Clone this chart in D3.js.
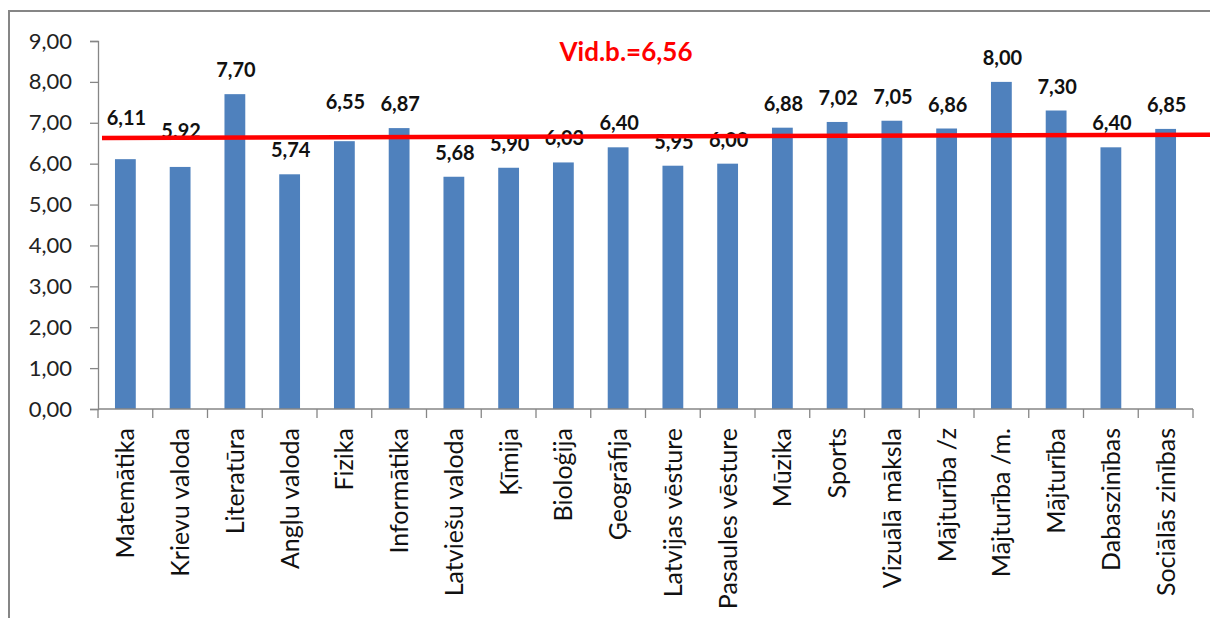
<!DOCTYPE html>
<html>
<head>
<meta charset="utf-8">
<script src="https://cdn.jsdelivr.net/npm/d3@7/dist/d3.min.js"></script>
<style>
  html, body { margin: 0; padding: 0; background: #fff; }
  svg { display: block; }
</style>
</head>
<body>
<svg id="chart" width="1210" height="618"></svg>
<script>
// ---- data ----
const categories = [
  "Matemātika", "Krievu valoda", "Literatūra", "Angļu valoda", "Fizika",
  "Informātika", "Latviešu valoda", "Ķīmija", "Bioloģija", "Ģeogrāfija",
  "Latvijas vēsture", "Pasaules vēsture", "Mūzika", "Sports", "Vizuālā māksla",
  "Mājturība /z", "Mājturība /m.", "Mājturība", "Dabaszinības", "Sociālās zinības"
];
const values = [6.11, 5.92, 7.70, 5.74, 6.55, 6.87, 5.68, 5.90, 6.03, 6.40,
                5.95, 6.00, 6.88, 7.02, 7.05, 6.86, 8.00, 7.30, 6.40, 6.85];
const valueLabels = ["6,11", "5.92", "7,70", "5,74", "6,55", "6,87", "5,68", "5,90", "6,03", "6,40",
                     "5,95", "6,00", "6,88", "7,02", "7,05", "6,86", "8,00", "7,30", "6,40", "6,85"];
const yTicks = [0, 1, 2, 3, 4, 5, 6, 7, 8, 9];
const yTickLabels = ["0,00", "1,00", "2,00", "3,00", "4,00", "5,00", "6,00", "7,00", "8,00", "9,00"];
const averageTitle = "Vid.b.=6,56";
// the hand-drawn average line, as read at its left and right ends
const averageLineEnds = [6.63, 6.71];

// ---- layout / style (not data) ----
const W = 1210, H = 618;
const plot = { left: 98, right: 1193, top: 41, bottom: 409 };
const barColor = "#4f81bd";
const axisColor = "#868686";
// manual label lifts (px) where the original labels were dragged upward
const labelLift = { 0: 17, 1: 12, 4: 15 };

const svg = d3.select("#chart");

// outer frame
svg.append("rect")
  .attr("x", 9).attr("y", 11)
  .attr("width", W + 20).attr("height", H + 20)
  .attr("fill", "#fff")
  .attr("stroke", axisColor).attr("stroke-width", 2);

const x = d3.scaleBand().domain(categories).range([plot.left, plot.right]).paddingInner(0.62).paddingOuter(0.31);
const xb = d3.scaleBand().domain(categories).range([plot.left, plot.right]);
const y = d3.scaleLinear().domain([0, 9]).range([plot.bottom, plot.top]);

// bars
svg.append("g").selectAll("rect")
  .data(values)
  .join("rect")
  .attr("x", (d, i) => x(categories[i]))
  .attr("width", x.bandwidth())
  .attr("y", d => y(d))
  .attr("height", d => y(0) - y(d))
  .attr("fill", barColor);

// y axis
const yAxis = d3.axisLeft(y)
  .tickValues(yTicks)
  .tickFormat((d, i) => yTickLabels[i])
  .tickSize(8)
  .tickPadding(18);
const gy = svg.append("g").attr("transform", `translate(${plot.left},0)`).call(yAxis);
gy.select(".domain").attr("stroke", axisColor).attr("stroke-width", 1.3);
gy.selectAll(".tick line").attr("stroke", axisColor).attr("stroke-width", 1.3);
gy.selectAll(".tick text")
  .attr("font-family", "Lato, 'Open Sans', sans-serif")
  .attr("font-size", 22).attr("fill", "#222");

// x axis: baseline + ticks at band boundaries
const gx = svg.append("g");
gx.append("line")
  .attr("x1", plot.left).attr("x2", plot.right)
  .attr("y1", y(0)).attr("y2", y(0))
  .attr("stroke", axisColor).attr("stroke-width", 1.3);
const boundaries = categories.map(c => xb(c)).concat([xb(categories[categories.length - 1]) + xb.bandwidth()]);
gx.selectAll("line.tk")
  .data(boundaries)
  .join("line")
  .attr("class", "tk")
  .attr("x1", d => d).attr("x2", d => d)
  .attr("y1", y(0)).attr("y2", y(0) + 9)
  .attr("stroke", axisColor).attr("stroke-width", 1.3);
gx.selectAll("text")
  .data(categories)
  .join("text")
  .attr("transform", d => `translate(${xb(d) + xb.bandwidth() / 2 + 9},${y(0) + 19}) rotate(-90)`)
  .attr("text-anchor", "end")
  .attr("font-family", "Lato, 'Open Sans', sans-serif")
  .attr("font-size", 25)
  .attr("fill", "#111")
  .text(d => d);

// value labels
svg.append("g").selectAll("text")
  .data(values)
  .join("text")
  .attr("x", (d, i) => xb(categories[i]) + xb.bandwidth() / 2 + 1)
  .attr("y", (d, i) => y(d) - 17 - (labelLift[i] || 0))
  .attr("text-anchor", "middle")
  .attr("font-family", "Lato, 'Open Sans', sans-serif")
  .attr("font-weight", "bold")
  .attr("font-size", 20)
  .attr("fill", "#111")
  .text((d, i) => valueLabels[i]);

// average line (drawn over labels)
svg.append("line")
  .attr("x1", plot.left + 4).attr("x2", W)
  .attr("y1", y(averageLineEnds[0])).attr("y2", y(averageLineEnds[1]))
  .attr("stroke", "#ff0000").attr("stroke-width", 4.5);

// average title
svg.append("text")
  .attr("x", 626).attr("y", 61)
  .attr("text-anchor", "middle")
  .attr("font-family", "Lato, 'Open Sans', sans-serif")
  .attr("font-weight", "bold")
  .attr("font-size", 26)
  .attr("fill", "#ff0000")
  .text(averageTitle);
</script>
</body>
</html>
